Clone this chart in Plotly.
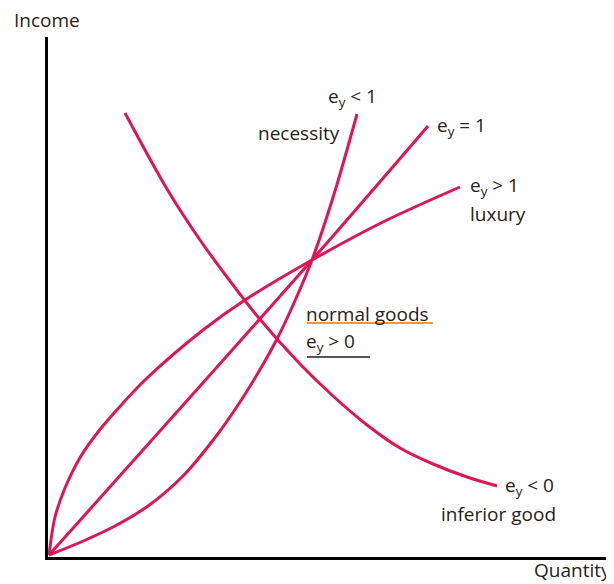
import plotly.graph_objects as go

# Engel curves (quantity on x, income on y)
necessity_q = [1, 33, 67, 100, 135, 169, 192, 210, 229, 246, 264, 287, 309]
necessity_i = [2, 15, 31, 51, 81, 122, 155, 184, 218, 254, 297, 366, 443]

unit_q = [1, 264, 380]
unit_i = [2, 297, 431]

luxury_q = [1, 7, 17, 33, 50, 67, 97, 155, 197, 264, 337, 412]
luxury_i = [2, 40, 69, 101, 125, 145, 177, 227, 257, 297, 336, 370]

inferior_q = [77, 119, 152, 185, 210, 252, 285, 319, 352, 385, 419, 449]
inferior_i = [444, 368, 317, 272, 240, 193, 161, 132, 109, 93, 80, 71]

LINE = "#DD1656"
TXT = "#2a2118"
FONT = "Open Sans"

# plot area in page pixels: left 48, right 612, top 37, bottom 557
PX0, PX1, PY0, PY1 = 48, 612, 37, 557

def px2paper(px, py):
    return (px - PX0) / (PX1 - PX0), (PY1 - py) / (PY1 - PY0)

fig = go.Figure()
for name, q, i in [("necessity", necessity_q, necessity_i),
                   ("unit", unit_q, unit_i),
                   ("luxury", luxury_q, luxury_i),
                   ("inferior", inferior_q, inferior_i)]:
    fig.add_trace(go.Scatter(x=q, y=i, mode="lines", name=name,
                             line=dict(color=LINE, width=3, shape="spline", smoothing=0.9),
                             hoverinfo="skip", showlegend=False))

def note(px, py, text, xanchor="center", yanchor="middle", size=19):
    x, y = px2paper(px, py)
    fig.add_annotation(x=x, y=y, xref="paper", yref="paper", text=text, showarrow=False,
                       xanchor=xanchor, yanchor=yanchor, borderpad=0,
                       font=dict(family=FONT, size=size, color=TXT))

note(47, 20, "Income")
note(572, 584, "Quantity", yanchor="bottom")
note(352, 97, "e<sub>y</sub> < 1")
note(299, 133, "necessity")
note(436, 126, "e<sub>y</sub> = 1", xanchor="left")
note(469, 186, "e<sub>y</sub> > 1", xanchor="left")
note(469, 214, "luxury", xanchor="left")
note(305, 314, "normal goods", xanchor="left")
note(305, 342, "e<sub>y</sub> > 0", xanchor="left")
note(504, 486, "e<sub>y</sub> < 0", xanchor="left")
note(498, 514, "inferior good")

def hline(px0, px1, py, color):
    x0, y = px2paper(px0, py)
    x1, _ = px2paper(px1, py)
    fig.add_shape(type="line", xref="paper", yref="paper", x0=x0, x1=x1, y0=y, y1=y,
                  line=dict(color=color, width=2))

hline(307, 433, 323, "#E39A45")
hline(307, 370, 357, "#55555f")

fig.update_xaxes(range=[0, 564], showgrid=False, zeroline=False, showticklabels=False,
                 ticks="", showline=True, linecolor="black", linewidth=3)
fig.update_yaxes(range=[0, 520], showgrid=False, zeroline=False, showticklabels=False,
                 ticks="", showline=True, linecolor="black", linewidth=3)
# the page body adds an 8px margin, so the figure is shifted by it
fig.update_layout(width=606, height=576, margin=dict(l=40, r=2, t=29, b=27, autoexpand=False),
                  paper_bgcolor="white", plot_bgcolor="white")

fig.write_html("out.html")
